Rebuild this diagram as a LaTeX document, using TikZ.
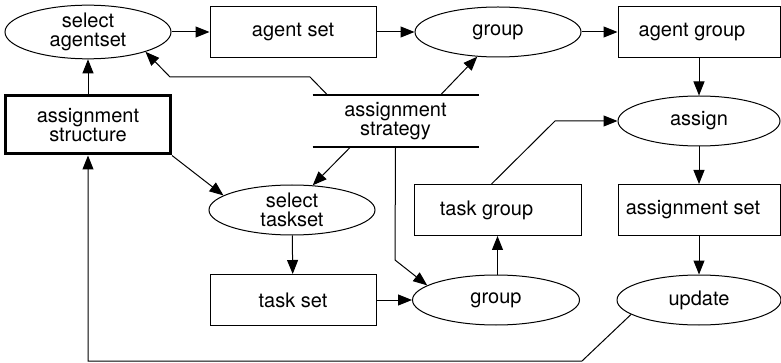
\documentclass[tikz,border=0pt]{standalone}
\usepackage{fontspec}
\setmainfont{TeX Gyre Heros}
\usetikzlibrary{shapes.geometric, arrows.meta, calc}

\begin{document}
\begin{tikzpicture}[x=1pt, y=-1pt, line width=1pt,
    font=\fontsize{20}{19}\selectfont,
    proc/.style={ellipse, draw, minimum width=166pt, minimum height=50pt, inner sep=0pt, align=center},
    data/.style={rectangle, draw, minimum width=166pt, minimum height=51pt, inner sep=0pt, align=center},
    flow/.style={-{Triangle[length=14pt, width=11pt]}}]
    \useasboundingbox (0,0) rectangle (781,363);
    % Processos e dados
    \node[proc] (agsel) at (88,32) {select\\agentset};
    \node[data] (agset) at (293,32) {agent set};
    \node[proc] (grpa) at (498,32) {group};
    \node[data, minimum width=162pt] (aggrp) at (699,32) {agent group\hspace*{14pt}};
    \node[proc, minimum width=162pt] (asgn) at (699,121) {assign};
    \node[data, line width=3pt, minimum width=165pt, minimum height=58pt] (astr) at (88,125) {assignment\\structure};
    \node[minimum width=165pt, minimum height=51pt, inner sep=0pt, align=center] (strat) at (395.5,121) {assignment\\strategy};
    \draw[line width=2pt] (strat.north west) -- (strat.north east);
    \draw[line width=2pt] (strat.south west) -- (strat.south east);
    \node[proc] (tsel) at (292,210) {select\\taskset};
    \node[data, minimum width=167pt] (tgrp) at (497.5,210) {task group\hspace*{22pt}};
    \node[data, minimum width=162pt] (aset) at (699,210) {assignment set\hspace*{12pt}};
    \node[data] (tset) at (293,300) {task set};
    \node[proc, minimum width=167pt] (grpb) at (496,300) {group};
    \node[proc, minimum width=164pt] (upd) at (699,300) {update};
    % Fluxo
    \draw[flow] (agsel) -- (agset);
    \draw[flow] (agset) -- (grpa);
    \draw[flow] (grpa) -- (aggrp);
    \draw[flow] (aggrp) -- (asgn);
    \draw[flow] (asgn) -- (aset);
    \draw[flow] (aset) -- (upd);
    \draw[flow] (astr) -- (agsel);
    \draw[flow] (astr.south east) -- (tsel.168);
    \draw[flow] (tsel) -- (tset);
    \draw[flow] (tset) -- (grpb);
    \draw[flow] (grpb.north -| tgrp.south) -- (tgrp.south);
    % Estrategia
    \draw[flow] ($(strat.north)+(45,0)$) -- (grpa.-130);
    \draw[flow] ($(strat.north)+(-68,0)$) -- (310,77) -- (170,77) -- (agsel.-19);
    \draw[flow] ($(strat.south)+(-45,0)$) -- (tsel.50);
    \draw[flow] (strat.south) -- (395,260) -- (grpb.168);
    \draw[flow] ($(tgrp.north)+(-6,0)$) -- (555,121) -- (asgn);
    % Retorno
    \draw[flow] (upd.-168) -- (582,361) -- (88,361) -- (astr);
\end{tikzpicture}
\end{document}
